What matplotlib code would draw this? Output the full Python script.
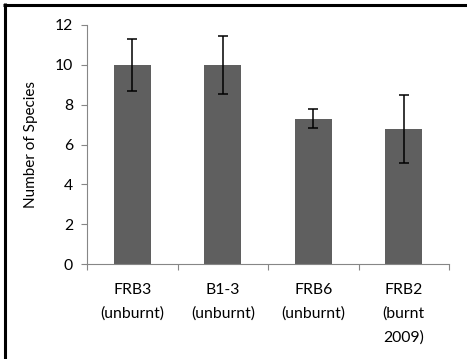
import matplotlib
matplotlib.use("Agg")
import matplotlib.pyplot as plt
from matplotlib.lines import Line2D
import numpy as np

categories = ["FRB3\n(unburnt)", "B1-3\n(unburnt)", "FRB6\n(unburnt)", "FRB2\n(burnt\n2009)"]
values = [10.0, 10.0, 7.3, 6.78]
errors = [1.32, 1.45, 0.47, 1.72]
yticks = [0, 2, 4, 6, 8, 10, 12]

plt.rcParams['font.family'] = ['Lato', 'DejaVu Sans']

W, H = 467, 359
dpi = 100
fig = plt.figure(figsize=(W / dpi, H / dpi), dpi=dpi)
ax = fig.add_axes([87 / W, 1 - 264 / H, (449 - 87) / W, (264 - 25) / H])

x = np.arange(len(categories))
ax.bar(x, values, width=0.41, color="#5f5f5f", zorder=2)
ax.errorbar(x, values, yerr=errors, fmt="none", ecolor="black",
            elinewidth=1.1, capsize=3.6, capthick=1.1, zorder=3)

ax.set_xlim(-0.5, len(categories) - 0.5)
ax.set_ylim(0, 12)
ax.set_yticks(yticks)
ax.set_yticklabels([str(v) for v in yticks], fontsize=11.3)

ax.set_xticks(x)
ax.set_xticklabels(categories, fontsize=11.3, linespacing=1.8)
ax.set_xticks(np.arange(len(categories) + 1) - 0.5, minor=True)
ax.tick_params(axis="x", which="major", length=0, pad=14)
ax.tick_params(axis="x", which="minor", length=4, color="#868686", width=0.8, direction="out")
ax.tick_params(axis="y", length=4, color="#868686", width=0.8, direction="out", pad=6)

for s in ["top", "right"]:
    ax.spines[s].set_visible(False)
for s in ["left", "bottom"]:
    ax.spines[s].set_color("#868686")
    ax.spines[s].set_linewidth(0.8)

ax.set_ylabel("Number of Species", fontsize=11, labelpad=12)

# outer border (cropped box)
lw = 2.2
fig.add_artist(Line2D([3 / W, 1.0], [1 - 4.5 / H, 1 - 4.5 / H], transform=fig.transFigure,
                      color="black", linewidth=lw, solid_capstyle="butt"))
fig.add_artist(Line2D([4.5 / W, 4.5 / W], [0.0, 1 - 3 / H], transform=fig.transFigure,
                      color="black", linewidth=lw, solid_capstyle="butt"))

fig.savefig("out.png", dpi=dpi)
